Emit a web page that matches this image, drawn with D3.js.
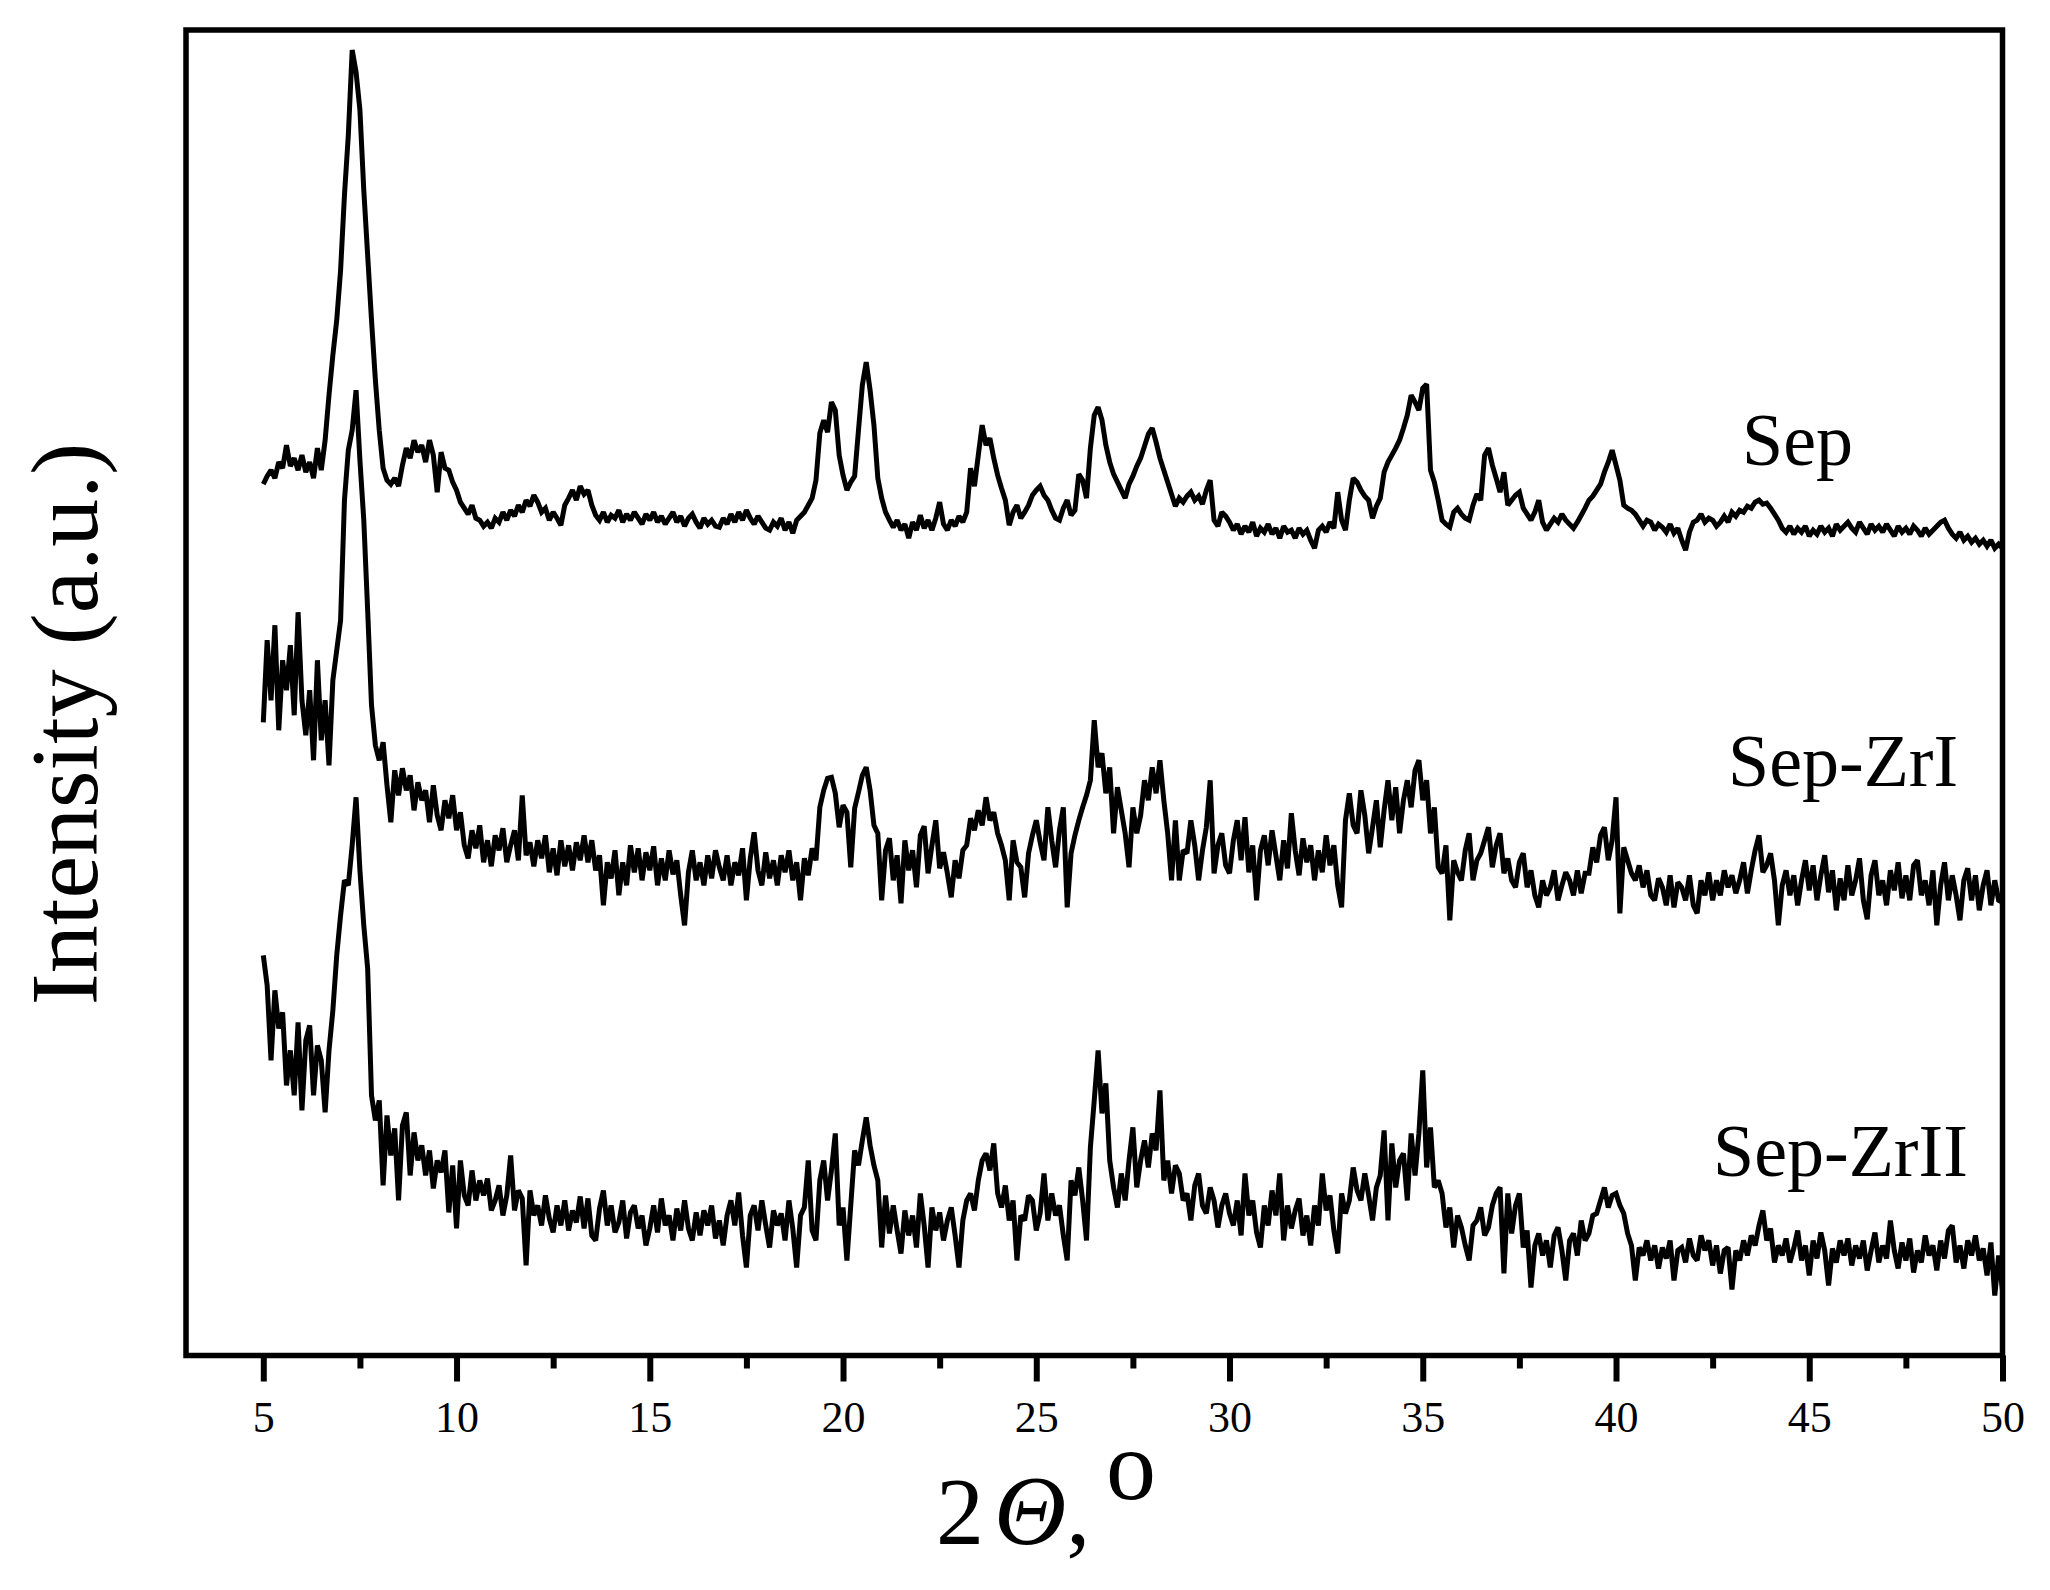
<!DOCTYPE html>
<html><head><meta charset="utf-8">
<script src="https://cdn.jsdelivr.net/npm/d3@7"></script>
<style>html,body{margin:0;padding:0;background:#fff;} svg{display:block;}</style>
</head><body>
<svg id="chart" width="2050" height="1590"></svg>
<script>
// ---- data ----
const angleStart = 5.0;   // 2θ of first sample (deg)
const angleStep = 0.1;    // sampling step (deg)
const seriesNames = ["Sep", "Sep-ZrI", "Sep-ZrII"];
const seriesOffsets = [755, 355, 5];   // vertical stacking offsets (a.u.)

const sepValues = [
116,124,130,122,138,132,155,134,142,130,
145,128,138,122,152,130,160,205,245,280,
330,405,465,550,528,490,410,345,280,220,
170,132,120,116,122,114,135,152,142,160,
148,155,138,160,145,108,148,132,130,118,
110,98,92,86,95,82,80,74,78,72,
82,78,88,80,90,84,95,88,100,94,
105,98,88,92,80,88,82,75,95,102,
110,100,114,106,110,95,85,80,88,78,
85,82,90,78,86,80,88,82,76,86,
80,88,78,84,76,82,88,78,84,74,
82,86,78,72,82,76,80,74,73,82,
76,86,78,88,80,90,82,76,84,78,
72,70,78,74,82,70,78,67,80,84,
88,95,102,120,167,180,168,198,190,145,
125,110,118,124,170,215,238,210,175,122,
102,88,80,73,80,70,76,62,78,70,
85,72,80,70,82,98,76,70,80,74,
84,78,88,132,114,145,175,155,162,142,
125,112,100,75,88,95,82,88,95,105,
110,114,105,100,90,82,80,92,100,85,
90,126,120,102,152,185,193,180,155,138,
126,118,110,102,116,124,134,142,154,166,
172,158,142,130,118,106,94,102,98,104,
108,100,104,96,110,120,80,74,88,84,
78,70,76,66,74,68,78,64,72,68,
76,66,72,62,74,68,70,62,72,66,
70,60,52,70,74,68,78,72,108,80,
70,100,122,118,110,104,100,82,94,102,
128,138,145,152,160,172,185,205,198,190,
212,216,130,118,100,80,76,73,88,92,
86,82,80,95,106,100,145,152,135,122,
108,128,95,100,105,108,92,86,80,88,
100,78,70,76,82,78,86,80,76,72,
78,85,92,100,104,110,116,128,138,150,
135,120,95,92,90,86,80,74,80,78,
70,76,73,68,76,67,72,60,50,68,
78,80,86,78,82,80,74,78,84,78,
88,84,90,88,94,92,98,100,96,97,
92,86,80,72,68,74,66,72,68,74,
64,70,66,74,68,72,64,76,70,74,
78,72,68,78,72,66,76,70,74,68,
76,70,64,74,68,72,66,74,70,64,
72,66,70,74,78,80,72,66,62,68,
60,64,58,62,56,60,54,60,52,56,
52];

const zr1Values = [
278,360,300,375,270,340,310,355,285,388,
300,265,310,240,340,260,300,235,320,350,
380,500,550,570,610,540,480,390,295,255,
240,258,215,178,230,205,232,210,225,190,
218,200,210,178,215,185,170,200,182,205,
170,188,155,142,170,152,175,138,160,134,
165,150,172,138,155,170,140,205,145,158,
134,160,142,165,128,152,125,160,134,155,
130,158,140,165,138,160,130,145,95,138,
122,150,105,138,115,155,128,152,120,148,
130,154,115,142,120,150,126,140,105,75,
128,150,120,138,115,145,122,150,133,120,
145,115,138,125,152,100,142,168,130,115,
148,122,140,115,145,128,150,120,138,100,
142,125,152,140,193,210,222,223,207,173,
195,188,133,192,208,225,233,210,175,167,
100,150,162,120,145,97,160,130,150,113,
165,174,127,155,180,132,148,127,103,140,
122,150,155,182,170,190,175,203,180,188,
167,155,140,100,160,138,133,103,147,165,
180,158,140,193,160,133,170,193,93,147,
165,180,193,205,220,280,233,247,207,233,
167,213,190,167,133,193,167,185,220,200,
233,207,240,200,167,120,180,120,150,147,
180,155,120,150,173,220,127,155,167,135,
127,160,180,140,183,128,155,100,150,165,
135,170,145,120,160,132,187,150,125,162,
138,155,120,150,128,165,135,155,115,93,
180,207,175,167,210,185,147,173,200,153,
190,220,180,213,167,200,220,193,230,240,
200,220,167,193,133,127,155,80,140,128,
120,150,167,120,140,147,160,173,133,155,
167,127,142,120,113,138,147,113,130,105,
93,120,105,113,130,100,115,128,120,105,
130,107,127,127,153,138,165,173,140,160,
203,87,153,140,127,120,135,113,130,105,
100,122,113,95,125,93,118,113,100,125,
95,87,120,105,128,100,120,105,130,113,
125,107,120,138,107,130,150,165,128,135,
147,120,75,115,130,105,125,95,120,140,
110,135,100,125,145,108,130,90,122,100,
135,105,120,142,100,81,125,140,105,120,
95,130,110,138,102,125,100,135,140,105,
120,95,130,75,115,138,100,125,105,80,
120,132,100,125,90,115,130,95,120,100,
98];

const zr2Values = [
395,365,290,360,322,338,265,300,255,328,
240,310,325,255,305,290,238,300,340,395,
435,470,465,505,553,480,425,382,255,230,
250,165,235,195,222,150,225,238,175,218,
190,205,175,200,162,190,178,200,138,185,
122,190,155,145,180,150,170,155,172,140,
150,165,135,155,195,140,160,152,85,160,
135,145,125,155,132,118,145,125,150,120,
140,128,154,122,152,115,110,142,160,125,
145,118,128,150,112,138,145,122,135,105,
122,145,118,152,125,135,110,142,120,150,
122,110,138,115,140,125,145,112,130,105,
135,150,125,158,115,83,135,145,120,150,
125,103,140,125,137,110,150,122,83,135,
143,190,120,110,170,190,150,180,217,125,
143,90,145,200,185,210,233,205,185,170,
103,155,117,145,120,97,140,115,135,103,
157,125,83,143,120,138,110,130,143,115,
83,130,150,157,140,170,190,197,180,207,
157,143,165,130,150,90,135,130,155,150,
120,137,177,130,157,135,145,115,90,170,
155,183,150,110,203,250,300,237,267,190,
163,143,177,150,190,223,163,190,210,183,
217,200,260,170,190,157,185,177,150,157,
130,165,177,145,137,163,150,123,145,157,
137,125,150,115,177,135,150,118,103,145,
125,160,135,177,110,145,122,140,152,115,
135,105,145,125,177,140,155,120,97,157,
137,150,183,160,150,177,155,130,163,175,
220,130,207,163,190,197,150,217,175,217,
280,183,223,163,170,157,123,143,103,135,
123,105,90,125,130,143,115,123,145,157,
163,77,157,117,145,157,103,120,63,105,
117,95,110,83,115,123,100,70,110,117,
95,130,110,117,135,137,150,163,143,155,
157,145,137,117,105,70,103,95,110,90,
105,82,103,92,110,70,100,103,88,112,
95,90,115,100,110,85,105,77,100,103,
61,100,90,110,95,115,105,125,140,110,
122,88,105,95,112,88,102,120,90,105,
75,110,92,118,100,65,102,88,110,95,
112,85,105,92,110,80,100,118,88,105,
92,130,100,82,108,90,112,78,100,88,
115,95,105,80,110,92,120,125,88,105,
82,110,95,115,90,102,75,108,55,95,
60];

const xMajorTicks = [5, 10, 15, 20, 25, 30, 35, 40, 45, 50];
const xMinorTicks = [7.5, 12.5, 17.5, 22.5, 27.5, 32.5, 37.5, 42.5, 47.5];
const xDomain = [3, 50];
const yDomain = [0, 1324];

// ---- layout ----
const W = 2050, H = 1590;
const plot = {left: 186, right: 2002.5, top: 30, bottom: 1355.5};
const svg = d3.select("#chart");
svg.append("rect").attr("width", W).attr("height", H).attr("fill", "#fff");

const x = d3.scaleLinear().domain(xDomain).range([plot.left, plot.right]);
const y = d3.scaleLinear().domain(yDomain).range([plot.bottom, plot.top + 1]);

const allSeries = [sepValues, zr1Values, zr2Values].map((vals, k) =>
  vals.map((v, i) => ({a: +(angleStart + i * angleStep).toFixed(2), v: v + seriesOffsets[k]})));

const line = d3.line().x(d => x(d.a)).y(d => y(d.v));
svg.append("g").selectAll("path").data(allSeries).join("path")
  .attr("d", line)
  .attr("fill", "none")
  .attr("stroke", "#000")
  .attr("stroke-width", 5)
  .attr("stroke-linejoin", "miter")
  .attr("stroke-miterlimit", 2);

// frame
svg.append("rect")
  .attr("x", plot.left).attr("y", plot.top)
  .attr("width", plot.right - plot.left).attr("height", plot.bottom - plot.top)
  .attr("fill", "none").attr("stroke", "#000").attr("stroke-width", 5.5);

// axis
const gMinor = svg.append("g").attr("transform", `translate(0,${plot.bottom})`)
  .call(d3.axisBottom(x).tickValues(xMinorTicks).tickSize(13).tickFormat(""));
const gMajor = svg.append("g").attr("transform", `translate(0,${plot.bottom})`)
  .call(d3.axisBottom(x).tickValues(xMajorTicks).tickSize(26).tickPadding(19).tickFormat(d3.format("d")));
[gMinor, gMajor].forEach(g => {
  g.select(".domain").remove();
  g.selectAll(".tick line").attr("stroke", "#000").attr("stroke-width", 6);
});
gMajor.selectAll(".tick text")
  .attr("fill", "#000")
  .style("font-family", "'Liberation Serif', 'Times New Roman', serif")
  .style("font-size", "44px");

// y title
svg.append("text")
  .attr("transform", "translate(97,724) rotate(-90)")
  .attr("text-anchor", "middle")
  .style("font-family", "'Liberation Serif', 'Times New Roman', serif")
  .style("font-size", "96px")
  .attr("fill", "#000")
  .text("Intensity (a.u.)");

// x title
const xt = svg.append("text")
  .attr("y", 1544)
  .style("font-family", "'Liberation Serif', 'Times New Roman', serif")
  .style("font-size", "96px")
  .attr("fill", "#000");
xt.append("tspan").attr("x", 936).text("2");
xt.append("tspan").attr("x", 994).style("font-style", "italic").style("font-size", "100px").text("Θ");
xt.append("tspan").text(",");
xt.append("tspan").attr("x", 1106).attr("y", 1499).style("font-size", "100px").text("o");

// series labels
const labelPos = [[1742, 465], [1728, 786], [1713, 1176]];
svg.append("g").selectAll("text").data(seriesNames).join("text")
  .attr("x", (d, i) => labelPos[i][0])
  .attr("y", (d, i) => labelPos[i][1])
  .style("font-family", "'Liberation Serif', 'Times New Roman', serif")
  .style("font-size", "74px")
  .attr("fill", "#000")
  .text(d => d);
</script>
</body></html>
